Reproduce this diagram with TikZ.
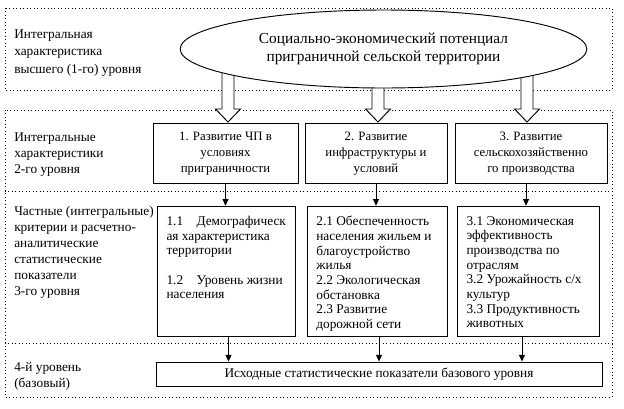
\documentclass[tikz,border=0pt]{standalone}
\usepackage{fontspec}
\setmainfont{Liberation Serif}
\usetikzlibrary{shapes.geometric}
\usetikzlibrary{arrows.meta}

\newcommand\crittext[2]{\parbox[c][98pt][t]{#1}{\raggedright\vspace{7.5pt}#2}}

\begin{document}
\begin{tikzpicture}[x=0.75pt, y=-0.75pt, >={Triangle[width=4.5pt,length=5pt]},
    levelframe/.style={draw, dotted, line width=0.6pt},
    lab/.style={align=left, inner sep=0pt, font=\fontsize{10}{12}\selectfont},
    lvltwo/.style={draw, line width=0.7pt, minimum height=45pt, align=center, inner sep=0pt, font=\fontsize{9.6}{12}\selectfont},
    lvlthree/.style={draw, line width=0.7pt, inner xsep=7pt, inner ysep=0pt, font=\fontsize{10}{11}\selectfont},
    conn/.style={->, line width=0.7pt}]

        \useasboundingbox (0,0) rectangle (624,408);

        % Dotted level frames
        \draw[levelframe] (5,8) rectangle (612,90);
        \draw[levelframe] (5,110) rectangle (612,397);
        \draw[levelframe] (5,191) -- (612,191);
        \draw[levelframe] (5,343) -- (612,343);

        % Level names
        \node[lab, anchor=west, font=\fontsize{10}{13}\selectfont] (lab1) at (14,53) {Интегральная\\характеристика\\высшего (1-го) уровня};
        \node[lab, anchor=west] (lab2) at (14,155) {Интегральные\\характеристики\\2-го уровня};
        \node[lab, anchor=west] (lab3) at (14,252) {Частные (интегральные)\\критерии и расчетно-\\аналитические\\статистические\\показатели\\3-го уровня};
        \node[lab, anchor=west] (lab4) at (14,376) {4-й уровень\\(базовый)};

        % Hollow arrows out of the top level
        \foreach \ax in {228,378,527}
            \draw[line width=0.7pt, fill=white] (\ax-6,70) -- (\ax-6,109) -- (\ax-12.5,109) -- (\ax,122) -- (\ax+12.5,109) -- (\ax+6,109) -- (\ax+6,70);

        % Top level
        \node[ellipse, draw, fill=white, line width=0.7pt, minimum width=305pt, minimum height=58.5pt, inner sep=0pt, font=\fontsize{11.5}{13.5}\selectfont] (top) at (383.5,49) {\raisebox{-3pt}{\begin{tabular}{@{}c@{}}Социально-экономический потенциал\\приграничной сельской территории\end{tabular}}};

        % Level 2
        \node[lvltwo, minimum width=108.75pt] (l2a) at (225.5,153) {\raisebox{-2pt}{\begin{tabular}{@{}c@{}}1. Развитие ЧП в\\условиях\\приграничности\end{tabular}}};
        \node[lvltwo, minimum width=106.5pt] (l2b) at (376,153) {\raisebox{-2pt}{\begin{tabular}{@{}c@{}}2. Развитие\\инфраструктуры и\\условий\end{tabular}}};
        \node[lvltwo, minimum width=114pt] (l2c) at (531,153) {\raisebox{-2pt}{\begin{tabular}{@{}c@{}}3. Развитие\\сельскохозяйственно\\го производства\end{tabular}}};

        % Level 3
        \node[lvlthree] (l3a) at (226.5,271.5) {\crittext{90pt}{1.1\quad Демографическ\\ая характеристика\\территории\\[11pt]1.2\quad Уровень жизни\\населения}};
        \node[lvlthree] (l3b) at (377,271.5) {\crittext{91pt}{2.1 Обеспеченность\\населения жильем и\\благоустройство\\жилья\\2.2 Экологическая\\обстановка\\2.3 Развитие\\дорожной сети}};
        \node[lvlthree] (l3c) at (528.5,271.5) {\crittext{93pt}{3.1 Экономическая\\эффективность\\производства по\\отраслям\\3.2 Урожайность с/х\\культур\\3.3 Продуктивность\\животных}};

        % Level 4
        \node[draw, line width=0.7pt, minimum width=334.5pt, minimum height=18pt, inner sep=0pt, font=\fontsize{10}{12}\selectfont] (base) at (379,374) {Исходные статистические показатели базового уровня};

        % Connectors
        \draw[conn] (l2a.south) -- (l2a.south |- l3a.north);
        \draw[conn] (l2b.south) -- (l2b.south |- l3b.north);
        \draw[conn] ([xshift=-3.75pt]l2c.south) -- ([xshift=-3.75pt]l2c.south |- l3c.north);
        \draw[conn] ([xshift=1.5pt]l3a.south) -- ([xshift=1.5pt]l3a.south |- base.north);
        \draw[conn] ([xshift=1.5pt]l3b.south) -- ([xshift=1.5pt]l3b.south |- base.north);
        \draw[conn] ([xshift=-4.9pt]l3c.south) -- ([xshift=-4.9pt]l3c.south |- base.north);

\end{tikzpicture}
\end{document}
